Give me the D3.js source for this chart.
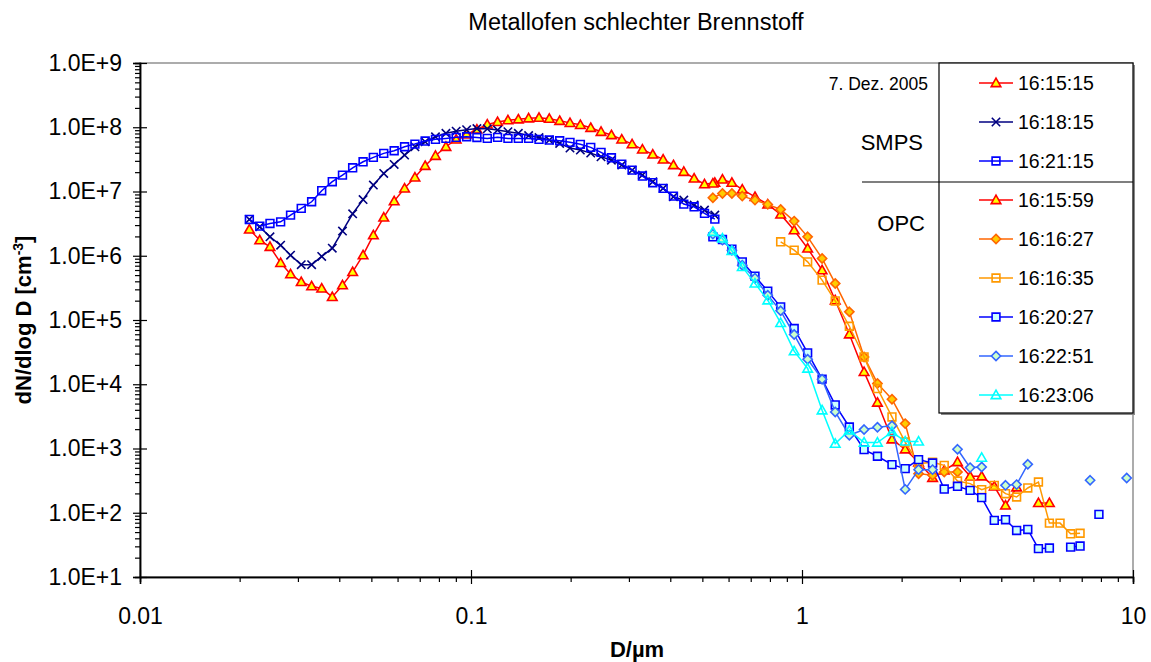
<!DOCTYPE html>
<html lang="de">
<head>
<meta charset="utf-8">
<title>Metallofen schlechter Brennstoff</title>
<script src="https://cdn.jsdelivr.net/npm/d3@7"></script>
<style>
  body { margin: 0; background: #fff; }
  text { font-family: Arial, "Liberation Sans", sans-serif; fill: #000; }
</style>
</head>
<body>
<script>

// SMPS channel diameters, µm
var smpsD = [0.0214, 0.0230, 0.0247, 0.0266, 0.0285, 0.0307, 0.0330, 0.0354, 0.0381, 0.0409,
             0.0439, 0.0472, 0.0507, 0.0545, 0.0586, 0.0630, 0.0677, 0.0727, 0.0781, 0.0840,
             0.0902, 0.0970, 0.1042, 0.1120, 0.1203, 0.1293, 0.1390, 0.1493, 0.1605, 0.1724,
             0.1853, 0.1991, 0.2140, 0.2300, 0.2471, 0.2656, 0.2854, 0.3067, 0.3295, 0.3541,
             0.3806, 0.4089, 0.4394, 0.4722, 0.5075, 0.5453];

// SMPS scans, dN/dlog D in cm^-3
var smps161515 = [2.57e6, 1.75e6, 1.38e6, 7.75e5, 5.17e5, 3.92e5, 3.36e5, 3.1e5, 2.29e5, 3.48e5,
                  5.61e5, 1.02e6, 2.09e6, 3.95e6, 7.08e6, 1.12e7, 1.66e7, 2.51e7, 3.6e7, 4.97e7,
                  6.48e7, 7.75e7, 9.27e7, 1.11e8, 1.21e8, 1.29e8, 1.33e8, 1.38e8, 1.41e8, 1.36e8,
                  1.26e8, 1.17e8, 1.09e8, 9.8e7, 8.51e7, 7.56e7, 6.48e7, 5.47e7, 4.53e7, 3.78e7,
                  3.16e7, 2.58e7, 2.03e7, 1.6e7, 1.3e7, 1.37e7];
var smps161815 = [3.67e6, 2.82e6, 1.97e6, 1.46e6, 1.02e6, 7.27e5, 7.27e5, 9.75e5, 1.31e6, 2.42e6,
                  4.5e6, 7.48e6, 1.26e7, 1.91e7, 2.64e7, 3.69e7, 4.97e7, 5.94e7, 7.11e7, 8.04e7,
                  8.67e7, 9.14e7, 9.55e7, 9.44e7, 9.04e7, 8.51e7, 8.04e7, 7.43e7, 6.92e7, 6.32e7,
                  5.61e7, 4.74e7, 4.41e7, 3.96e7, 3.47e7, 3.08e7, 2.58e7, 2.15e7, 1.8e7, 1.42e7,
                  1.12e7, 8.27e6, 7.35e6, 6.14e6, 5.13e6, 4.29e6];
var smps162115 = [3.67e6, 2.89e6, 3.18e6, 3.37e6, 4.29e6, 5.46e6, 6.92e6, 1.03e7, 1.42e7, 1.8e7,
                  2.34e7, 2.9e7, 3.4e7, 3.92e7, 4.31e7, 4.97e7, 5.47e7, 6.1e7, 6.48e7, 6.71e7,
                  6.96e7, 7.11e7, 6.92e7, 6.71e7, 6.96e7, 6.71e7, 6.71e7, 6.71e7, 6.48e7, 6.32e7,
                  6.16e7, 5.82e7, 5.42e7, 4.86e7, 4.06e7, 3.35e7, 2.67e7, 2.15e7, 1.74e7, 1.37e7,
                  1.12e7, 8.48e6, 6.37e6, 5.78e6, 4.56e6, 3.72e6];

// OPC channel diameters, µm
var opcD = [0.538, 0.575, 0.614, 0.660, 0.721, 0.788, 0.862, 0.947, 1.04, 1.15,
            1.26, 1.39, 1.54, 1.69, 1.87, 2.05, 2.25, 2.48, 2.69, 2.95,
            3.22, 3.49, 3.81, 4.12, 4.45, 4.81, 5.18, 5.59, 6.02, 6.48,
            6.92, 7.42, 7.89, 8.40, 8.95, 9.57];

// OPC scans (null = no value)
var opc161559 = [1.34e7, 1.54e7, 1.37e7, 1.08e7, 8.27e6, 6.3e6, 4.4e6, 2.5e6, 1.3e6, 5.97e5,
                 2.03e5, 6.0e4, 1.56e4, 5.19e3, 1.39e3, 972, 610, 350, 457, 616,
                 369, 369, 258, 130, 249, null, 142, 142, null, null,
                 null, null, null, null, null, null];
var opc161627 = [7.98e6, 9.33e6, 9.33e6, 8.48e6, 7.35e6, 6.3e6, 5.26e6, 3.46e6, 1.97e6, 9.08e5,
                 3.71e5, 1.34e5, 2.66e4, 1.03e4, 5.84e3, 2.44e3, 406, 383, 430, 430,
                 null, null, null, null, null, null, null, null, null, null,
                 null, null, null, null, null, null];
var opc161635 = [null, null, null, null, null, null, 1.65e6, 1.22e6, 8.04e5, 4.17e5,
                 1.98e5, 8.0e4, 2.66e4, 8.57e3, 3.1e3, 1.26e3, 582, 610, 547, 312,
                 284, 229, 267, 198, 176, 243, 301, 69, 69, 47,
                 48, null, null, null, null, null];
var opc162027 = [1.97e6, 1.79e6, 1.27e6, 8.04e5, 4.81e5, 2.81e5, 1.6e5, 7.37e4, 3.08e4, 1.2e4,
                 4.76e3, 2.16e3, 961, 757, 561, 486, 671, 594, 234, 258,
                 223, 172, 76, 78, 53, 55, 27.6, 28.2, null, 29.2,
                 30.3, null, 94.4, null, null, null];
var opc162251 = [2.17e6, 1.75e6, 1.22e6, 7.14e5, 4.48e5, 2.43e5, 1.39e5, 5.94e4, 2.45e4, 1.2e4,
                 3.71e3, 1.61e3, 1.97e3, 2.14e3, 2.26e3, 231, 469, 469, null, 972,
                 504, 515, null, 267, 274, 567, null, null, null, null,
                 null, 320, null, null, null, 347];
var opc162306 = [2.36e6, 1.86e6, 1.19e6, 6.72e5, 3.71e5, 2.03e5, 9.0e4, 3.27e4, 1.76e4, 3.94e3,
                 1.19e3, 1.92e3, 1.24e3, 1.24e3, 1.81e3, 1.29e3, 1.29e3, null, null, null,
                 null, 721, null, null, null, null, null, null, null, null,
                 null, null, null, null, null, null];

var seriesNames = ["16:15:15", "16:18:15", "16:21:15", "16:15:59", "16:16:27",
                   "16:16:35", "16:20:27", "16:22:51", "16:23:06"];

var xTickValues = [0.01, 0.1, 1, 10];
var xTickLabels = ["0.01", "0.1", "1", "10"];
var yTickValues = [1e1, 1e2, 1e3, 1e4, 1e5, 1e6, 1e7, 1e8, 1e9];
var yTickLabels = ["1.0E+1", "1.0E+2", "1.0E+3", "1.0E+4", "1.0E+5",
                   "1.0E+6", "1.0E+7", "1.0E+8", "1.0E+9"];

// pair up diameters with values
function zip(ds, vs) {
    return ds.map(function(d, i) { return [d, vs[i]]; });
}
var seriesData = [
    zip(smpsD, smps161515), zip(smpsD, smps161815), zip(smpsD, smps162115),
    zip(opcD, opc161559), zip(opcD, opc161627), zip(opcD, opc161635),
    zip(opcD, opc162027), zip(opcD, opc162251), zip(opcD, opc162306)
];

var styles = [
    {stroke: "#ff0000", marker: "tri", fill: "#ffff00"},
    {stroke: "#000080", marker: "x",   fill: "none"},
    {stroke: "#0000ff", marker: "sq",  fill: "none"},
    {stroke: "#ff0000", marker: "tri", fill: "#ffff00"},
    {stroke: "#ff6600", marker: "dia", fill: "#ffcc00"},
    {stroke: "#ff9900", marker: "sq",  fill: "none"},
    {stroke: "#0000ff", marker: "sq",  fill: "#ccffff"},
    {stroke: "#3366ff", marker: "dia", fill: "#ccffcc"},
    {stroke: "#00ffff", marker: "tri", fill: "none"}
];

var markerPath = {
    tri: "M0,-4.8L4.8,3.6L-4.8,3.6Z",
    sq:  "M-3.9,-3.9H3.9V3.9H-3.9Z",
    dia: "M0,-4.6L4.6,0L0,4.6L-4.6,0Z",
    x:   "M-4.2,-4.2L4.2,4.2M-4.2,4.2L4.2,-4.2"
};

var w = 1151, h = 662;
var padL = 140, padR = 1133, padT = 63, padB = 577;

var xScale = d3.scaleLog().domain([0.01, 10]).range([padL, padR]);
var yScale = d3.scaleLog().domain([1e1, 1e9]).range([padB, padT]);

var svg = d3.select("body").append("svg")
    .attr("width", w)
    .attr("height", h);

// plot frame (top/right grey)
svg.append("rect")
    .attr("x", padL).attr("y", padT)
    .attr("width", padR - padL).attr("height", padB - padT)
    .attr("fill", "none")
    .attr("stroke", "#808080")
    .attr("stroke-width", 1.3);

// minor tick values
function minors(lo, hi) {
    var out = [];
    for (var p = lo; p < hi; p++) {
        for (var k = 2; k <= 9; k++) out.push(k * Math.pow(10, p));
    }
    return out;
}

// Y axis
var yMinor = d3.axisLeft(yScale).tickValues(minors(1, 9)).tickSize(5).tickFormat("");
svg.append("g").attr("transform", "translate(" + padL + ",0)").call(yMinor);

var yAxis = d3.axisLeft(yScale)
    .tickValues(yTickValues)
    .tickSize(7)
    .tickPadding(11)
    .tickFormat(function(d, i) { return yTickLabels[i]; });
var gy = svg.append("g").attr("transform", "translate(" + padL + ",0)").call(yAxis);
gy.selectAll(".tick line").attr("x1", 7);

// X axis
var xMinor = d3.axisBottom(xScale).tickValues(minors(-2, 1)).tickSize(5).tickFormat("");
svg.append("g").attr("transform", "translate(0," + padB + ")").call(xMinor);

var xAxis = d3.axisBottom(xScale)
    .tickValues(xTickValues)
    .tickSize(7)
    .tickPadding(24)
    .tickFormat(function(d, i) { return xTickLabels[i]; });
var gx = svg.append("g").attr("transform", "translate(0," + padB + ")").call(xAxis);
gx.selectAll(".tick line").attr("y1", -7);

svg.selectAll(".domain").attr("stroke", "#000").attr("stroke-width", 1.5);
svg.selectAll(".tick line").attr("stroke", "#000").attr("stroke-width", 1.2);
svg.selectAll(".tick text")
    .style("font-family", "Arial, 'Liberation Sans', sans-serif")
    .style("font-size", "23px");

// series
var line = d3.line()
    .defined(function(d) { return d[1] != null; })
    .x(function(d) { return xScale(d[0]); })
    .y(function(d) { return yScale(d[1]); });

seriesData.forEach(function(data, i) {
    var st = styles[i];
    var g = svg.append("g");
    g.append("path")
        .datum(data)
        .attr("d", line)
        .attr("fill", "none")
        .attr("stroke", st.stroke)
        .attr("stroke-width", 1.5);
    g.selectAll(".m")
        .data(data.filter(function(d) { return d[1] != null; }))
        .enter()
        .append("path")
        .attr("class", "m")
        .attr("transform", function(d) {
            return "translate(" + xScale(d[0]) + "," + yScale(d[1]) + ")";
        })
        .attr("d", markerPath[st.marker])
        .attr("fill", st.fill)
        .attr("stroke", st.stroke)
        .attr("stroke-width", 1.6);
});

// legend
var lx = 939, ly = 63, lw = 194, lh = 350;
svg.append("rect")
    .attr("x", lx + 2).attr("y", ly + 2)
    .attr("width", lw).attr("height", lh)
    .attr("fill", "#888");
svg.append("rect")
    .attr("x", lx).attr("y", ly)
    .attr("width", lw).attr("height", lh)
    .attr("fill", "#fff")
    .attr("stroke", "#000")
    .attr("stroke-width", 1.2);
svg.append("line")
    .attr("x1", 862).attr("x2", padR)
    .attr("y1", 182).attr("y2", 182)
    .attr("stroke", "#000")
    .attr("stroke-width", 1.2);

var legend = svg.append("g");
seriesNames.forEach(function(name, i) {
    var cy = 83 + i * 39;
    var st = styles[i];
    legend.append("line")
        .attr("x1", 979).attr("x2", 1013)
        .attr("y1", cy).attr("y2", cy)
        .attr("stroke", st.stroke)
        .attr("stroke-width", 1.5);
    legend.append("path")
        .attr("transform", "translate(996," + cy + ")")
        .attr("d", markerPath[st.marker])
        .attr("fill", st.fill)
        .attr("stroke", st.stroke)
        .attr("stroke-width", 1.6);
    legend.append("text")
        .attr("x", 1018)
        .attr("y", cy + 7)
        .style("font-size", "19.5px")
        .text(name);
});

svg.append("text")
    .attr("x", 928).attr("y", 90)
    .attr("text-anchor", "end")
    .style("font-size", "17.5px")
    .text("7. Dez. 2005");
svg.append("text")
    .attr("x", 923).attr("y", 150)
    .attr("text-anchor", "end")
    .style("font-size", "22px")
    .text("SMPS");
svg.append("text")
    .attr("x", 925).attr("y", 231)
    .attr("text-anchor", "end")
    .style("font-size", "22px")
    .text("OPC");

// title and axis titles
svg.append("text")
    .attr("x", 636).attr("y", 30)
    .attr("text-anchor", "middle")
    .style("font-size", "23.5px")
    .text("Metallofen schlechter Brennstoff");

svg.append("text")
    .attr("x", 637).attr("y", 657)
    .attr("text-anchor", "middle")
    .style("font-size", "22px")
    .style("font-weight", "bold")
    .text("D/µm");

var yl = svg.append("text")
    .attr("transform", "translate(31,320) rotate(-90)")
    .attr("text-anchor", "middle")
    .style("font-size", "22px")
    .style("font-weight", "bold");
yl.append("tspan").text("dN/dlog D [cm");
yl.append("tspan").attr("dy", -8).style("font-size", "14px").text("-3");
yl.append("tspan").attr("dy", 8).text("]");

</script>
</body>
</html>
